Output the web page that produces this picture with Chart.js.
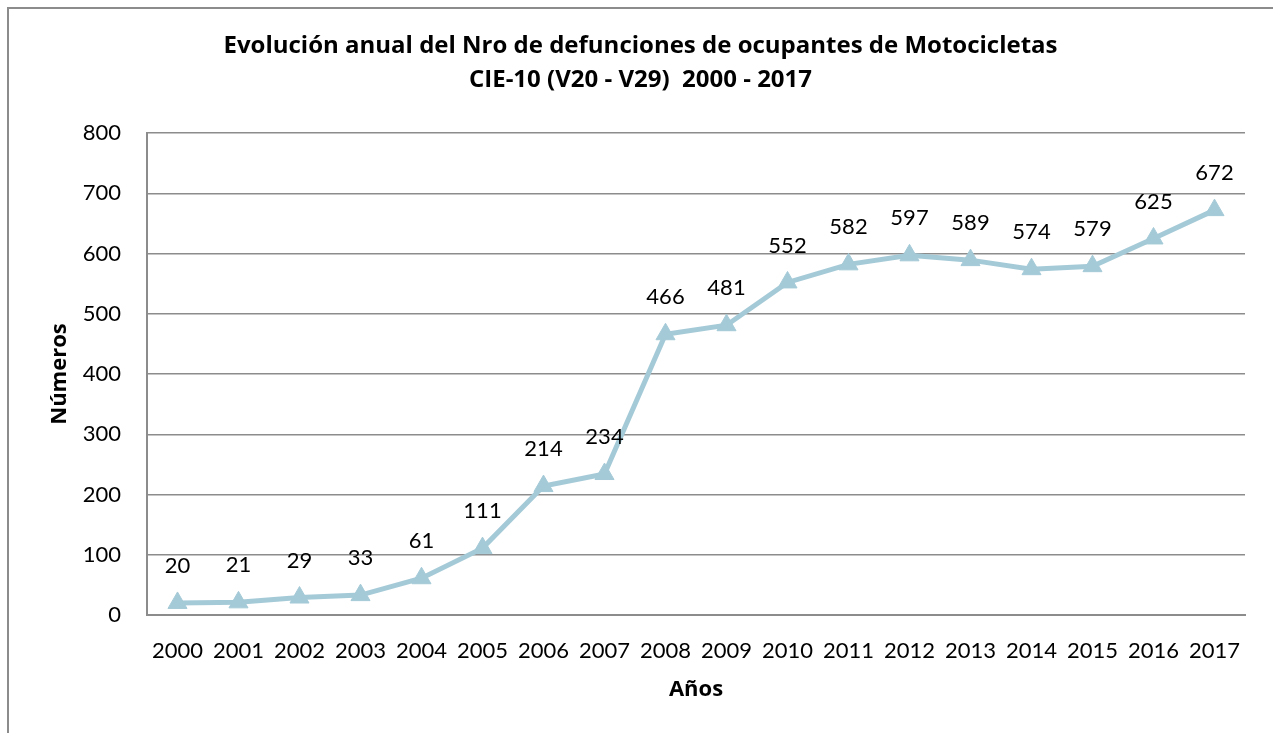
<!DOCTYPE html>
<html>
<head>
<meta charset="utf-8">
<script src="https://cdn.jsdelivr.net/npm/chart.js@4.4.1/dist/chart.umd.min.js"></script>
<style>
  html, body { margin: 0; padding: 0; background: #ffffff; overflow: hidden; }
  #frame { position: absolute; left: 7px; top: 7px; width: 1300px; height: 800px;
           border-left: 2px solid #8c8c8c; border-top: 2px solid #8c8c8c; }
  #wrap { position: absolute; left: 0; top: 0; width: 1273px; height: 733px; }
</style>
</head>
<body>
<div id="frame"></div>
<div id="wrap"><canvas id="c" width="1273" height="733"></canvas></div>
<script>
const years = ['2000','2001','2002','2003','2004','2005','2006','2007','2008','2009','2010','2011','2012','2013','2014','2015','2016','2017'];
const deaths = [20, 21, 29, 33, 61, 111, 214, 234, 466, 481, 552, 582, 597, 589, 574, 579, 625, 672];
const titleLines = ['Evolución anual del Nro de defunciones de ocupantes de Motocicletas', 'CIE-10 (V20 - V29)  2000 - 2017'];
const yTitle = 'Números';
const xTitle = 'Años';

const FONT = 'Lato, "Open Sans", sans-serif';
const BFONT = '"Open Sans", Lato, sans-serif';

const dataLabels = {
  id: 'dataLabels',
  afterDatasetsDraw(chart) {
    const ctx = chart.ctx;
    const meta = chart.getDatasetMeta(0);
    ctx.save();
    ctx.font = '22px ' + FONT;
    ctx.fillStyle = '#000';
    ctx.textAlign = 'center';
    ctx.textBaseline = 'middle';
    meta.data.forEach((pt, i) => {
      ctx.fillText(String(chart.data.datasets[0].data[i]), pt.x, pt.y - 37);
    });
    ctx.restore();
  }
};

new Chart(document.getElementById('c'), {
  type: 'line',
  data: {
    labels: years,
    datasets: [{
      data: deaths,
      borderColor: '#a5cad7',
      backgroundColor: '#a5cad7',
      borderWidth: 5,
      pointStyle: 'triangle',
      pointRadius: 11,
      pointHoverRadius: 11,
      pointBorderWidth: 1,
      tension: 0
    }]
  },
  options: {
    responsive: false,
    animation: false,
    layout: { padding: { left: 36, right: 28, top: 0, bottom: 0 } },
    plugins: {
      legend: { display: false },
      tooltip: { enabled: false },
      title: {
        display: true,
        text: titleLines,
        color: '#000',
        font: { family: BFONT, size: 24, weight: 'bold', lineHeight: 1.417 },
        padding: { top: 29, bottom: 36 }
      }
    },
    scales: {
      x: {
        offset: true,
        grid: { display: false, drawTicks: false },
        border: { display: true, color: '#8c8c8c', width: 2 },
        ticks: { color: '#000', font: { family: FONT, size: 22 }, padding: 23, maxRotation: 0, autoSkip: false },
        title: { display: true, text: xTitle, color: '#000', font: { family: BFONT, size: 22, weight: 'bold' }, padding: { top: 0, bottom: 30 } },
        afterFit(s) { s.height = 118; }
      },
      y: {
        min: 0, max: 800,
        ticks: { stepSize: 100, color: '#000', font: { family: FONT, size: 22 }, padding: 26 },
        grid: { color: '#8c8c8c', lineWidth: 1.5, drawTicks: false },
        border: { display: true, color: '#8c8c8c', width: 2 },
        title: { display: true, text: yTitle, color: '#000', font: { family: BFONT, size: 22, weight: 'bold' }, padding: { top: 11, bottom: 0 } },
        afterFit(s) { s.width = 111; }
      }
    }
  },
  plugins: [dataLabels]
});
</script>
</body>
</html>
